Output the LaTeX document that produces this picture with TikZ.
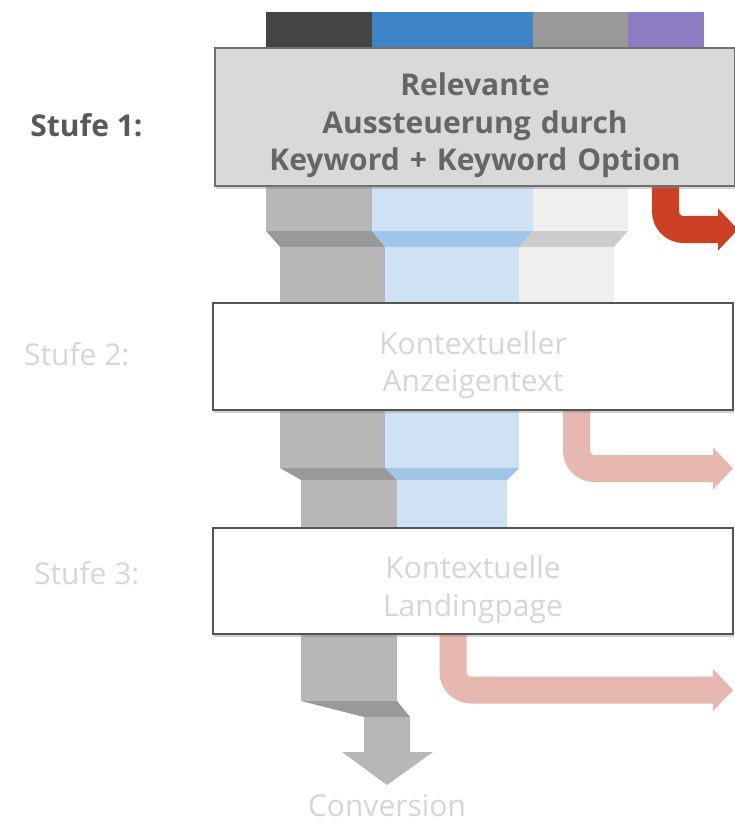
\documentclass[tikz,border=0pt]{standalone}
\usepackage{fontspec}
\setmainfont{Open Sans}
\usetikzlibrary{arrows.meta,shadows,backgrounds}

\definecolor{barDark}{HTML}{444444}
\definecolor{barBlue}{HTML}{3D85C6}
\definecolor{barGray}{HTML}{999999}
\definecolor{barPurple}{HTML}{8E7CC3}
\definecolor{flowGray}{HTML}{B7B7B7}
\definecolor{stepGray}{HTML}{999999}
\definecolor{flowBlue}{HTML}{CFE2F3}
\definecolor{stepBlue}{HTML}{9FC5E8}
\definecolor{flowLight}{HTML}{EFEFEF}
\definecolor{stepLight}{HTML}{CCCCCC}
\definecolor{outRed}{HTML}{CC4125}
\definecolor{outPale}{HTML}{E6B8AF}
\definecolor{boxFill}{HTML}{D9D9D9}
\definecolor{boxLine}{HTML}{555555}
\definecolor{boxLineOne}{HTML}{707070}
\definecolor{textOne}{HTML}{666666}
\definecolor{labelOne}{HTML}{595959}
\definecolor{textPale}{HTML}{D6D6D6}

\begin{document}
\begin{tikzpicture}[x=1pt,y=-1pt,
  stagebox/.style={draw=boxLine,line width=1.5pt,fill=white,minimum width=520pt,
    text width=500pt,align=center,text height=40pt,text=textPale,
    font=\fontsize{30}{37.5}\selectfont,
    drop shadow={shadow xshift=1pt,shadow yshift=-3pt,opacity=0.35}},
  stagelabel/.style={anchor=east,text=textPale,font=\fontsize{30}{36}\selectfont},
  outflow/.style={line width=27pt,rounded corners=18pt,-{Triangle[length=20pt,width=41pt]}}]
\useasboundingbox (0,0) rectangle (735,826);

\node[stagebox,fill=boxFill,draw=boxLineOne,text=textOne,minimum height=138pt,
  font=\fontsize{30}{37.5}\selectfont\bfseries] (box1) at (475,117) {Relevante\\Aussteuerung durch\\Keyword + Keyword Option};
\node[stagebox,minimum height=107pt] (box2) at (473,356.5) {Kontextueller\\Anzeigentext};
\node[stagebox,minimum height=106pt] (box3) at (473,581) {Kontextuelle\\Landingpage};

\node[stagelabel,text=labelOne,font=\fontsize{30}{36}\selectfont\bfseries] (lab1) at (146,125) {Stufe 1:};
\node[stagelabel] (lab2) at (133,354) {Stufe 2:};
\node[stagelabel] (lab3) at (143,573) {Stufe 3:};
\node[text=textPale,font=\fontsize{30}{36}\selectfont] (conv) at (387,806) {Conversion};

\coordinate (exit1) at (738,229.5);
\coordinate (exit2) at (733,468.5);
\coordinate (exit3) at (733,690);

\begin{scope}[on background layer]
  % bars on top
  \fill[barDark] (266,12) rectangle (372,80);
  \fill[barBlue] (372,12) rectangle (533,80);
  \fill[barGray] (533,12) rectangle (628,80);
  \fill[barPurple] (628,12) rectangle (704,80);
  % below stage 1
  \fill[flowGray] (266,170) rectangle (372,231);
  \fill[flowBlue] (372,170) rectangle (533,231);
  \fill[flowLight] (533,170) rectangle (628,231);
  \fill[stepGray] (266,231) -- (372,231) -- (385,247) -- (280,247) -- cycle;
  \fill[stepBlue] (372,231) -- (533,231) -- (519,247) -- (385,247) -- cycle;
  \fill[stepLight] (533,231) -- (628,231) -- (614,247) -- (519,247) -- cycle;
  \fill[flowGray] (280,247) rectangle (385,320);
  \fill[flowBlue] (385,247) rectangle (519,320);
  \fill[flowLight] (519,247) rectangle (614,320);
  % below stage 2
  \fill[flowGray] (280,395) rectangle (385,468);
  \fill[flowBlue] (385,395) rectangle (519,468);
  \fill[stepGray] (280,468) -- (385,468) -- (397,480) -- (301,480) -- cycle;
  \fill[stepBlue] (385,468) -- (519,468) -- (507,480) -- (397,480) -- cycle;
  \fill[flowGray] (301,480) rectangle (397,545);
  \fill[flowBlue] (397,480) rectangle (507,545);
  % below stage 3
  \fill[flowGray] (301,620) rectangle (397,701);
  \fill[stepGray] (301,701) -- (397,701) -- (410,717) -- (364,717) -- cycle;
  \fill[flowGray] (364,717) -- (410,717) -- (410,752) -- (433,752) -- (387,785)
    -- (342,752) -- (364,752) -- cycle;
  % drop outs
  \draw[outflow,draw=outRed] ([xshift=190.5pt]box1.south) |- (exit1);
  \draw[outflow,draw=outPale] ([xshift=103.5pt]box2.south) |- (exit2);
  \draw[outflow,draw=outPale] ([xshift=-20pt]box3.south) |- (exit3);
\end{scope}
\end{tikzpicture}
\end{document}
